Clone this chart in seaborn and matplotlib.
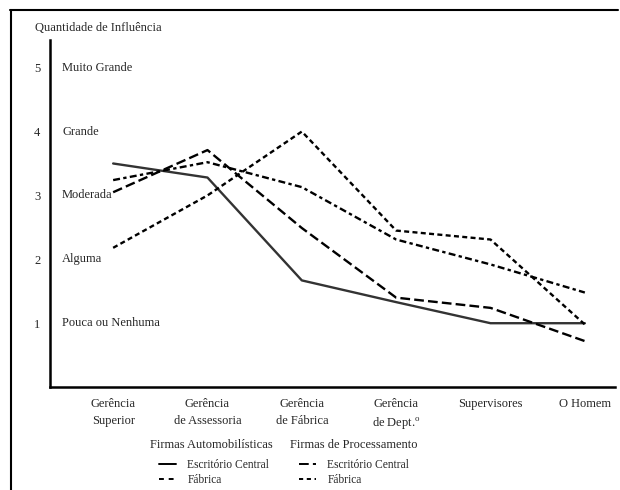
import matplotlib
matplotlib.use("Agg")
import matplotlib.pyplot as plt
import matplotlib.transforms as mtransforms
from matplotlib.lines import Line2D
import pandas as pd
import seaborn as sns

# hierarchy levels (x categories)
niveis = ["Gerência\nSuperior", "Gerência\nde Assessoria", "Gerência\nde Fábrica",
          "Gerência\nde Dept.$^{\\mathrm{o}}$", "Supervisores", "O Homem"]

# influence
auto_central = [3.50, 3.28, 1.67, 1.33, 1.00, 1.00]
auto_fabrica = [3.05, 3.71, 2.49, 1.40, 1.24, 0.72]
proc_central = [3.24, 3.52, 3.13, 2.31, 1.92, 1.48]
proc_fabrica = [2.18, 3.00, 4.00, 2.45, 2.31, 0.98]

escala_valores = [1, 2, 3, 4, 5]
escala_nomes = ["Pouca ou Nenhuma", "Alguma", "Moderada", "Grande", "Muito Grande"]

series = {
    "Auto - Escritório Central": auto_central,
    "Auto - Fábrica": auto_fabrica,
    "Proc - Escritório Central": proc_central,
    "Proc - Fábrica": proc_fabrica,
}

sns.set_style("white")
plt.rcParams["font.family"] = ["Liberation Serif", "DejaVu Serif"]
plt.rcParams["mathtext.fontset"] = "custom"
plt.rcParams["mathtext.rm"] = "Liberation Serif"
plt.rcParams["lines.scale_dashes"] = False

df = pd.concat([
    pd.DataFrame({"pos": range(len(niveis)), "valor": v, "serie": nome})
    for nome, v in series.items()
])

dashes = {
    "Auto - Escritório Central": "",
    "Auto - Fábrica": (7, 3),
    "Proc - Escritório Central": (5, 2.4, 2.4, 2.4),
    "Proc - Fábrica": (3.6, 2.4),
}
palette = {
    "Auto - Escritório Central": "#333333",
    "Auto - Fábrica": "black",
    "Proc - Escritório Central": "black",
    "Proc - Fábrica": "black",
}

fig = plt.figure(figsize=(6.2, 4.9), dpi=100)
ax = fig.add_axes([0.081, 0.21, 0.911, 0.708])

sns.lineplot(data=df, x="pos", y="valor", hue="serie", style="serie",
             dashes=dashes, palette=palette, linewidth=1.7, legend=False, ax=ax)

ax.set_xlim(-0.667, 5.32)
ax.set_ylim(0, 5.43)
ax.set_xlabel("")
ax.set_ylabel("")
ax.set_xticks(range(len(niveis)))
ax.set_xticklabels(niveis, fontsize=9, linespacing=1.5)
ax.set_yticks(escala_valores)
ax.set_yticklabels([str(v) for v in escala_valores], fontsize=9)
ax.tick_params(axis="both", direction="in", length=5, width=1.2, color="black")
ax.tick_params(axis="x", pad=8)
ax.tick_params(axis="y", pad=7)

for lado in ["top", "right"]:
    ax.spines[lado].set_visible(False)
for lado in ["left", "bottom"]:
    ax.spines[lado].set_linewidth(1.8)
    ax.spines[lado].set_color("black")

# words of the scale, just right of the y axis
trans = mtransforms.blended_transform_factory(ax.transAxes, ax.transData)
for v, nome in zip(escala_valores, escala_nomes):
    ax.text(0.021, v, nome, transform=trans, fontsize=9, va="center", ha="left")

fig.text(35 / 620, 1 - 28 / 490, "Quantidade de Influência", fontsize=9, va="center")

# legend block below the axis
fig.text(150 / 620, 1 - 445 / 490, "Firmas Automobilísticas", fontsize=9, va="center")
fig.text(290 / 620, 1 - 445 / 490, "Firmas de Processamento", fontsize=9, va="center")

h_auto = [Line2D([], [], color="black", lw=1.4),
          Line2D([], [], color="black", lw=1.4, dashes=(3.5, 3.5))]
h_proc = [Line2D([], [], color="black", lw=1.4, dashes=(7, 3, 3, 20)),
          Line2D([], [], color="black", lw=1.4, dashes=(3, 2.6))]
rotulos = ["Escritório Central", "Fábrica"]
for hs, x0 in [(h_auto, 159), (h_proc, 299)]:
    fig.legend(hs, rotulos, loc="upper left", bbox_to_anchor=(x0 / 620, 1 - 459 / 490),
               frameon=False, fontsize=8.3, handlelength=1.45, handletextpad=1.0,
               labelspacing=0.25, borderpad=0, borderaxespad=0)

# page frame (top and left edge)
fig.add_artist(Line2D([10 / 620, 618 / 620], [1 - 10 / 490, 1 - 10 / 490],
                      transform=fig.transFigure, color="black", lw=1.5))
fig.add_artist(Line2D([11 / 620, 11 / 620], [0, 1 - 10 / 490],
                      transform=fig.transFigure, color="black", lw=1.5))

fig.savefig("out.png", dpi=100)
